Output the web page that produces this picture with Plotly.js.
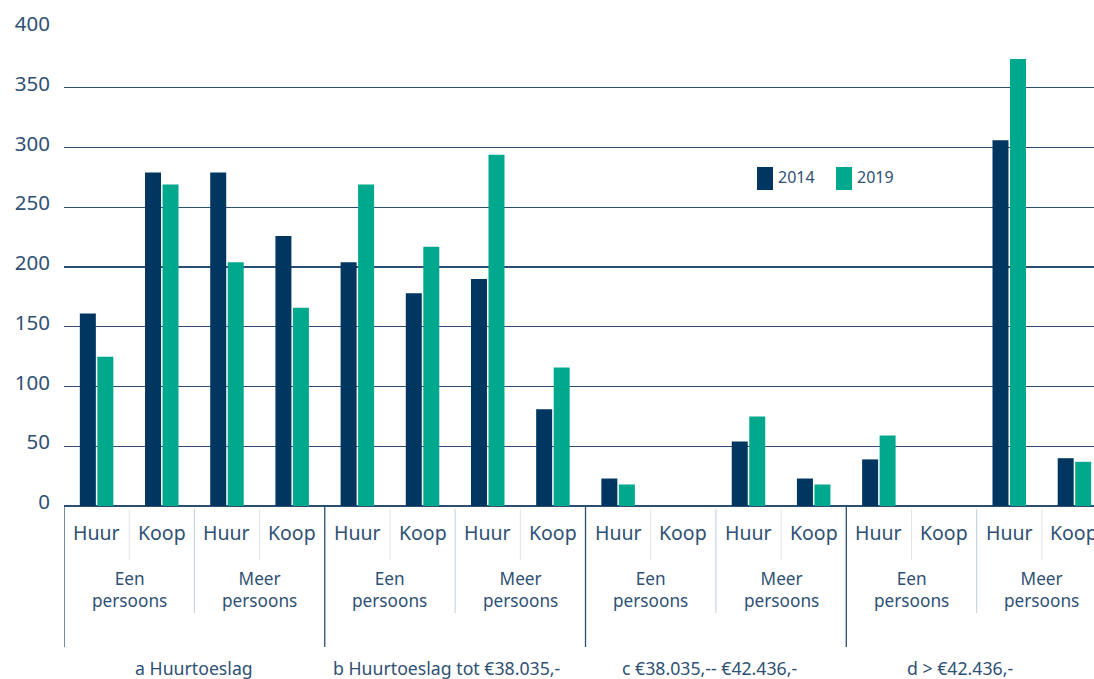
<!DOCTYPE html>
<html>
<head>
<meta charset="utf-8">
<script src="https://cdn.plot.ly/plotly-3.0.1.min.js"></script>
<style>
  html, body { margin: 0; padding: 0; background: #ffffff; overflow: hidden; }
  #chart { width: 1094px; height: 679px; }
</style>
</head>
<body>
<div id="chart"></div>
<script>
// Income groups, household types and tenure (three nested category levels)
const groups = ['a Huurtoeslag', 'b Huurtoeslag tot €38.035,-', 'c €38.035,-- €42.436,-', 'd > €42.436,-'];
const households = ['Een<br>persoons', 'Meer<br>persoons'];
const tenures = ['Huur', 'Koop'];

// Series
const seriesNames = ['2014', '2019'];
const values2014 = [161, 279, 279, 226, 204, 178, 190, 81, 23, 0, 54, 23, 39, 0, 306, 40];
const values2019 = [125, 269, 204, 166, 269, 217, 294, 116, 18, 0, 75, 18, 59, 0, 374, 37];

// Y axis ticks
const yTicks = [0, 50, 100, 150, 200, 250, 300, 350, 400];

const NAVY = '#003660';
const GREEN = '#00A98E';
const TEXT = '#2E5074';
const GRID = '#2C4E72';
const FONT = 'Noto Sans, Open Sans, sans-serif';

// One unique category key per bar slot, built from the three levels
const categories = [];
groups.forEach(g => {
  households.forEach(h => {
    tenures.forEach(t => categories.push(g + ' | ' + h.replace('<br>', ' ') + ' | ' + t));
  });
});

const traces = [
  { type: 'bar', name: seriesNames[0], x: categories, y: values2014, marker: { color: NAVY, line: { width: 0 } }, showlegend: false },
  { type: 'bar', name: seriesNames[1], x: categories, y: values2019, marker: { color: GREEN, line: { width: 0 } }, showlegend: false }
];

// Vertical pixel position (below the plot) to paper coordinate
const PLOT_TOP = 28, PLOT_BOTTOM = 506, PLOT_H = PLOT_BOTTOM - PLOT_TOP;
const py = p => (PLOT_BOTTOM - p) / PLOT_H;

const shapes = [];
const annotations = [];

// Separators between categories
for (let i = 0; i <= categories.length; i++) {
  const xpos = i - 0.5;
  let y1, color, w;
  if (i % 4 === 0) { y1 = py(647); color = GRID; w = 1.3; }
  else if (i % 2 === 0) { y1 = py(613); color = '#C3CDD8'; w = 1; }
  else { y1 = py(560); color = '#DFE4EA'; w = 1; }
  shapes.push({ type: 'line', xref: 'x', yref: 'paper', x0: xpos, x1: xpos, y0: (i % 4 === 0) ? 0 : py(509), y1: y1, line: { color: color, width: w } });
}

// Tenure labels
categories.forEach((c, i) => {
  annotations.push({ xref: 'x', yref: 'paper', x: i, y: py(532), yanchor: 'middle', xanchor: 'center',
    text: tenures[i % 2], showarrow: false, font: { family: FONT, size: 19.5, color: TEXT } });
});

// Household labels (two lines)
groups.forEach((g, gi) => {
  households.forEach((h, hi) => {
    annotations.push({ xref: 'x', yref: 'paper', x: gi * 4 + hi * 2 + 0.5, y: py(589), yanchor: 'middle', xanchor: 'center',
      text: h, showarrow: false, font: { family: FONT, size: 17.2, color: TEXT } });
  });
});

// Income group labels
const groupShift = [0, -9, -6, -17];
groups.forEach((g, gi) => {
  annotations.push({ xref: 'x', yref: 'paper', x: gi * 4 + 1.5, y: py(668), yanchor: 'middle', xanchor: 'center',
    xshift: groupShift[gi], text: g, showarrow: false, font: { family: FONT, size: 17.7, color: TEXT } });
});

// Legend swatches and labels
const px = p => (p - 64) / 1030;
const legendItems = [
  { color: NAVY, x0: 757, label: seriesNames[0] },
  { color: GREEN, x0: 836, label: seriesNames[1] }
];
legendItems.forEach(it => {
  shapes.push({ type: 'rect', xref: 'paper', yref: 'paper', x0: px(it.x0), x1: px(it.x0 + 16), y0: py(190), y1: py(167),
    fillcolor: it.color, line: { width: 0 } });
  annotations.push({ xref: 'paper', yref: 'paper', x: px(it.x0 + 19), y: py(176.5), xanchor: 'left', yanchor: 'middle',
    text: it.label, showarrow: false, font: { family: FONT, size: 16, color: TEXT } });
});

const layout = {
  width: 1094,
  height: 679,
  margin: { l: 64, r: 0, t: PLOT_TOP, b: 679 - PLOT_BOTTOM, pad: 0 },
  paper_bgcolor: '#ffffff',
  plot_bgcolor: '#ffffff',
  barmode: 'group',
  bargap: 0.463,
  bargroupgap: 0.086,
  showlegend: false,
  font: { family: FONT, color: TEXT },
  xaxis: {
    type: 'category',
    range: [-0.5, 15.3],
    showticklabels: false,
    showgrid: false,
    zeroline: false,
    showline: false,
    ticks: '',
    fixedrange: true
  },
  yaxis: {
    range: [0, 400],
    tickvals: yTicks,
    ticktext: yTicks.map(String),
    showgrid: true,
    gridcolor: GRID,
    gridwidth: 1.2,
    zeroline: true,
    zerolinecolor: GRID,
    zerolinewidth: 1.2,
    showline: false,
    ticks: '',
    ticklabelstandoff: 13,
    ticklabelshift: -4,
    tickfont: { family: FONT, size: 20.5, color: TEXT },
    fixedrange: true
  },
  shapes: shapes,
  annotations: annotations
};

Plotly.newPlot('chart', traces, layout, { displayModeBar: false, staticPlot: true });
</script>
</body>
</html>
